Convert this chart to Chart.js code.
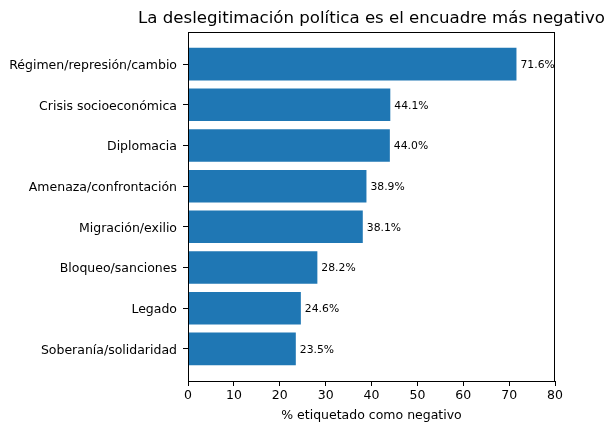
<!DOCTYPE html>
<html>
<head>
<meta charset="utf-8">
<script src="https://cdn.jsdelivr.net/npm/chart.js@4"></script>
<style>
  html, body { margin: 0; padding: 0; background: #fff; }
  #wrap { width: 614px; height: 432px; }
</style>
</head>
<body>
<div id="wrap"><canvas id="chart" width="614" height="432"></canvas></div>
<script>
const categories = [
  'Régimen/represión/cambio',
  'Crisis socioeconómica',
  'Diplomacia',
  'Amenaza/confrontación',
  'Migración/exilio',
  'Bloqueo/sanciones',
  'Legado',
  'Soberanía/solidaridad'
];
const negativePct = [71.6, 44.1, 44.0, 38.9, 38.1, 28.2, 24.6, 23.5];
const xTicks = [0, 10, 20, 30, 40, 50, 60, 70, 80];

const titleText = 'La deslegitimación política es el encuadre más negativo';
const FONT = "'DejaVu Sans', sans-serif";

// frame + title + value labels, matplotlib style
const extras = {
  id: 'extras',
  afterDraw(chart) {
    const { ctx, chartArea: a } = chart;
    ctx.save();
    ctx.strokeStyle = '#000';
    ctx.lineWidth = 1;
    ctx.strokeRect(a.left + 0.5, a.top + 0.5, a.right - a.left - 1, a.bottom - a.top);

    ctx.fillStyle = '#000';
    ctx.font = '16.6px ' + FONT;
    ctx.textAlign = 'center';
    ctx.textBaseline = 'bottom';
    ctx.fillText(titleText, (a.left + a.right) / 2, a.top - 5);

    ctx.font = '10.8px ' + FONT;
    ctx.textAlign = 'left';
    ctx.textBaseline = 'middle';
    const meta = chart.getDatasetMeta(0);
    meta.data.forEach((bar, i) => {
      ctx.fillText(negativePct[i].toFixed(1) + '%', bar.x + 4, bar.y + 1);
    });
    ctx.restore();
  }
};

new Chart(document.getElementById('chart'), {
  type: 'bar',
  data: {
    datasets: [{
      data: negativePct.map((v, i) => ({ x: v, y: i })),
      backgroundColor: '#1f77b4',
      barPercentage: 0.8,
      categoryPercentage: 1.0
    }]
  },
  options: {
    indexAxis: 'y',
    responsive: false,
    animation: false,
    layout: { padding: { top: 32, right: 59, left: 0, bottom: 9 } },
    plugins: { legend: { display: false }, tooltip: { enabled: false } },
    scales: {
      x: {
        type: 'linear',
        min: 0,
        max: 80,
        afterBuildTicks: s => { s.ticks = xTicks.map(v => ({ value: v })); },
        afterFit: s => { s.height = 42; },
        grid: { drawOnChartArea: false, tickLength: 5, color: '#000' },
        border: { color: '#000' },
        ticks: { color: '#000', font: { family: FONT, size: 12.5 }, padding: 2, maxRotation: 0 },
        title: { display: true, text: '% etiquetado como negativo', color: '#000', font: { family: FONT, size: 12.5 }, padding: { top: 0, bottom: 0 } }
      },
      y: {
        type: 'linear',
        reverse: true,
        offset: false,
        min: -0.79,
        max: 7.79,
        afterBuildTicks: s => { s.ticks = categories.map((c, i) => ({ value: i })); },
        afterFit: s => { s.width = 188; },
        grid: { drawOnChartArea: false, offset: false, tickLength: 5, color: '#000' },
        border: { color: '#000' },
        ticks: {
          color: '#000',
          font: { family: FONT, size: 12.5 },
          padding: 6,
          labelOffset: 1.5,
          callback: v => categories[v]
        }
      }
    }
  },
  plugins: [extras]
});
</script>
</body>
</html>
